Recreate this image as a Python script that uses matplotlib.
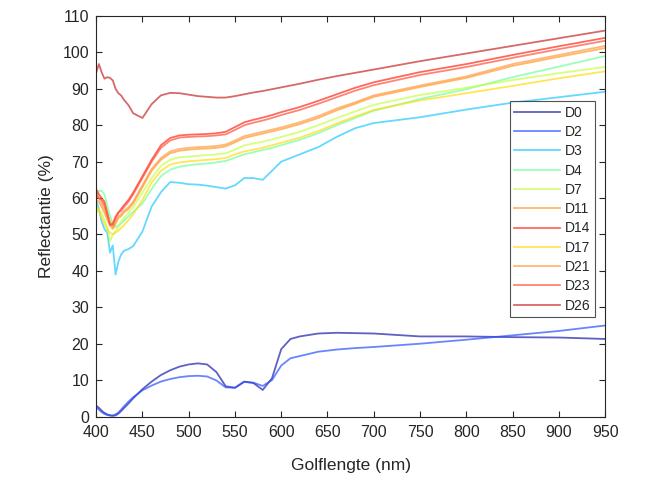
import matplotlib
matplotlib.use("Agg")
import matplotlib.pyplot as plt

plt.rcParams['font.family'] = ['Liberation Sans', 'DejaVu Sans']

# golflengte grid (nm)
wl = [400, 403, 406, 409, 412, 415, 418, 421, 424, 427, 430, 435, 440, 450, 460, 470,
      480, 490, 500, 510, 520, 530, 540, 550, 560, 570, 580, 590, 600, 610, 620, 640,
      660, 680, 700, 750, 800, 850, 900, 950]

# reflectantie (%) per sample
d0 = [3, 2.4, 1.6, 1.0, 0.6, 0.3, 0.2, 0.3, 0.8, 1.5, 2.3, 3.6, 5, 7.5, 9.6, 11.4,
      12.7, 13.7, 14.3, 14.6, 14.3, 12.2, 8.3, 7.9, 9.6, 9.2, 7.3, 10.5, 18.5, 21.3, 22, 22.8,
      23, 22.9, 22.8, 22, 22, 21.8, 21.7, 21.3]
d2 = [2.5, 1.9, 1.2, 0.7, 0.4, 0.3, 0.3, 0.6, 1.1, 1.9, 2.8, 4.1, 5.3, 7.2, 8.5, 9.6,
      10.3, 10.8, 11.1, 11.2, 11, 9.9, 8, 7.9, 9.5, 9.3, 8.4, 10, 14, 16, 16.6, 17.8,
      18.4, 18.8, 19.1, 20, 21.1, 22.3, 23.5, 25]
d3 = [59.5, 57, 53.5, 51.5, 50.5, 45, 47, 39, 42.5, 44.5, 45.5, 46, 46.8, 50.8, 57.7, 61.6,
      64.4, 64.2, 63.8, 63.7, 63.4, 63, 62.6, 63.5, 65.5, 65.5, 65, 67.5, 70, 71, 72, 74,
      76.8, 79.2, 80.6, 82.2, 84.3, 86.2, 87.7, 89.2]
d4 = [60, 62, 62, 61, 58, 55, 53, 52, 52.5, 53, 53.8, 55, 56.2, 58.5, 62.5, 66,
      67.8, 68.6, 69, 69.3, 69.5, 69.8, 70.2, 71.1, 72, 72.6, 73.2, 73.8, 74.5, 75.3, 76, 77.8,
      80, 82, 84, 87.2, 89.9, 93.2, 96.1, 99]
d7 = [56, 57, 56, 54, 52, 48, 50, 51, 52, 53.5, 54.5, 56, 57.5, 61.5, 65.5, 68.8,
      70.5, 71.2, 71.4, 71.6, 71.8, 72, 72.3, 73.3, 74.5, 75, 75.5, 76.1, 76.8, 77.5, 78.2, 80,
      82, 83.8, 85.6, 88.3, 90.3, 92.4, 94.3, 96]
d11 = [59.5, 59, 57.5, 56, 54, 52.5, 51.5, 53, 54.5, 55, 56, 57, 58.5, 63, 67.5, 70.5,
       72.3, 73, 73.3, 73.5, 73.6, 73.8, 74.2, 75.3, 76.5, 77.1, 77.7, 78.3, 78.9, 79.6, 80.3, 82,
       84.1, 85.9, 87.8, 90.5, 93, 96.3, 98.8, 101.2]
d14 = [62.5, 61, 60, 59, 56, 53, 52.5, 54.5, 56, 57, 58, 59.5, 61.5, 66, 70.5, 74.5,
       76.5, 77.2, 77.4, 77.5, 77.6, 77.8, 78.2, 79.5, 80.8, 81.5, 82.1, 82.8, 83.6, 84.3, 85, 86.7,
       88.5, 90.3, 91.8, 94.6, 96.8, 99.3, 101.7, 104]
d17 = [58, 56.5, 54.5, 53, 51.5, 50.5, 50, 50.5, 51, 51.8, 52.5, 54, 55.5, 59.5, 64.3, 67.5,
       69.2, 69.8, 70.1, 70.3, 70.5, 70.7, 71, 72, 72.8, 73.3, 73.8, 74.5, 75.2, 75.9, 76.6, 78.4,
       80.5, 82.4, 84.2, 86.8, 88.8, 90.8, 92.9, 94.8]
d21 = [60.5, 60, 58.5, 57, 55, 53.5, 52, 53.5, 55, 55.5, 56.5, 57.5, 59, 63.5, 68, 71,
       72.8, 73.5, 73.8, 74, 74.1, 74.3, 74.7, 75.8, 77, 77.6, 78.2, 78.8, 79.4, 80.1, 80.8, 82.5,
       84.6, 86.3, 88.2, 90.9, 93.4, 96.8, 99.3, 101.8]
d23 = [61.5, 60, 59.5, 58, 55.5, 52.5, 53, 55, 56, 56.5, 57.5, 59, 61, 65.5, 70, 73.8,
       75.8, 76.6, 76.8, 76.9, 77, 77.2, 77.5, 78.7, 80, 80.7, 81.3, 82, 82.8, 83.5, 84.2, 85.9,
       87.7, 89.5, 91, 93.8, 96, 98.5, 100.9, 103.2]
d26 = [94.4, 96.8, 94.5, 92.8, 93.2, 93, 92.3, 90, 88.8, 88.2, 87, 85.5, 83.3, 82, 85.8, 88.2,
       88.9, 88.8, 88.4, 88, 87.8, 87.6, 87.6, 88, 88.5, 89, 89.4, 89.9, 90.4, 90.9, 91.4, 92.5,
       93.5, 94.4, 95.3, 97.6, 99.7, 101.8, 103.9, 106]

labels = ['D0', 'D2', 'D3', 'D4', 'D7', 'D11', 'D14', 'D17', 'D21', 'D23', 'D26']
series = [d0, d2, d3, d4, d7, d11, d14, d17, d21, d23, d26]
colors = ['#1c1ca8', '#2a50ff', '#22c8ff', '#70ff9c', '#c4ff44', '#ff9a28',
          '#ff2a18', '#ffdc10', '#ff9a40', '#ff5038', '#c82828']

fig = plt.figure(figsize=(6.63, 4.78), dpi=100)
ax = fig.add_axes([0.145, 0.1286, 0.7677, 0.8379])

for y, c, lab in zip(series, colors, labels):
    ax.plot(wl, y, color=c, lw=1.3, alpha=0.7, label=lab)

ax.set_xlim(400, 950)
ax.set_ylim(0, 110)
ax.set_xticks(range(400, 951, 50))
ax.set_yticks(range(0, 111, 10))

tc = '#262626'
ax.tick_params(direction='in', length=4, width=0.8, top=True, right=True,
               labelsize=11.5, colors=tc)
ax.tick_params(axis='x', pad=6)
ax.tick_params(axis='y', pad=5)
for s in ax.spines.values():
    s.set_color(tc)
    s.set_linewidth(0.8)

ax.set_xlabel('Golflengte (nm)', fontsize=12.5, color=tc, labelpad=13)
ax.set_ylabel('Reflectantie (%)', fontsize=12.5, color=tc, labelpad=6)

leg = ax.legend(loc='upper right', bbox_to_anchor=(0.98, 0.788), fontsize=10,
                fancybox=False, edgecolor=tc, handlelength=3.3, labelspacing=0.38,
                borderpad=0.35, handletextpad=0.3, borderaxespad=0)
leg.get_frame().set_linewidth(0.8)
for t in leg.get_texts():
    t.set_color(tc)

fig.savefig('out.png', dpi=100)
